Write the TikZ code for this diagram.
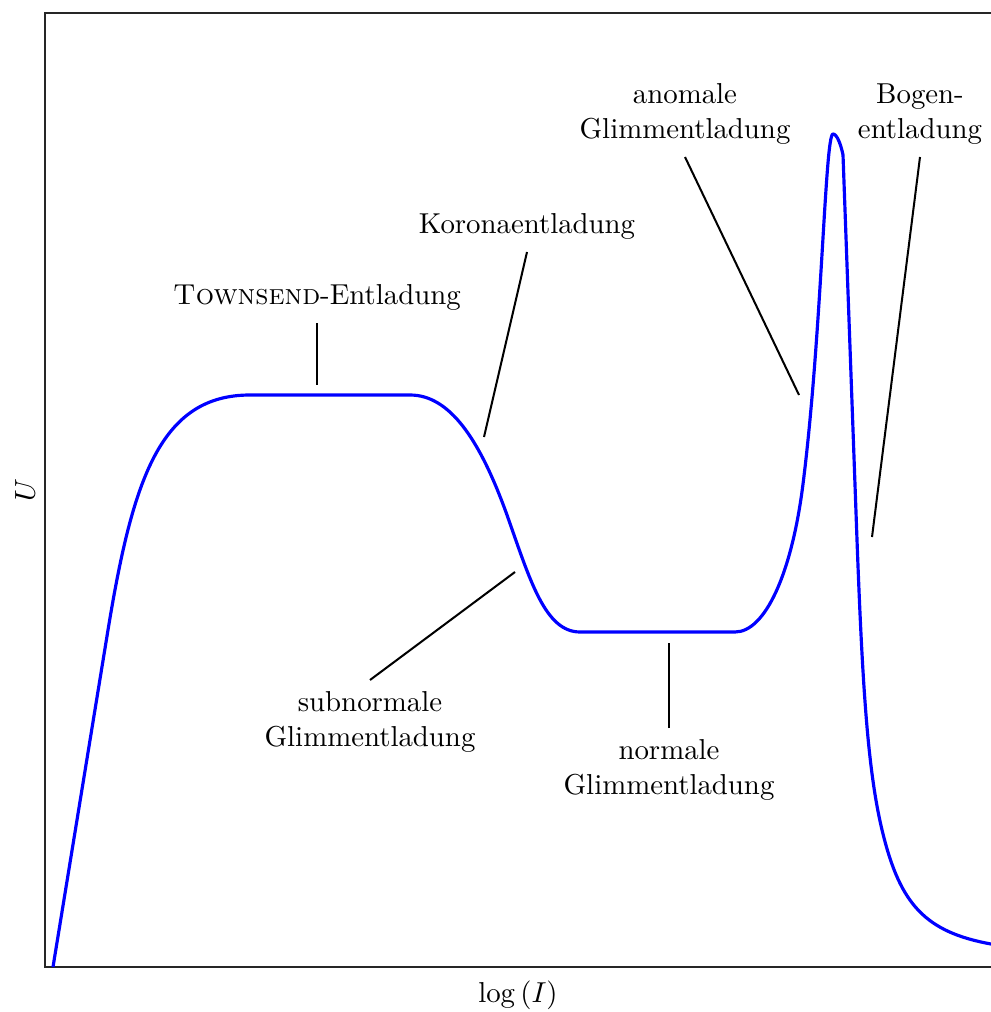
\documentclass[tikz,border=0pt]{standalone}
\usetikzlibrary{calc}
\begin{document}
\begin{tikzpicture}[x=0.347pt, y=-0.347pt,
  curve/.style={blue, line width=1.1pt, line join=round},
  leader/.style={black, line width=0.7pt},
  lbl/.style={align=center, inner sep=0pt, font=\normalsize},
  frame/.style={black!85, line width=0.45pt}]
  \useasboundingbox (0,0) rectangle (991,1012);
  \clip (0,0) rectangle (991,1012);

  % axis frame (open to the right)
  \draw[frame] (1010,13) -- (45,13) -- (45,967) -- (1010,967);

  % axis labels
  \node[lbl] (xlab) at (518,995) {$\log\left(I\right)$};
  \node[lbl, rotate=90] (ylab) at (25,490) {$U$};

  % characteristic curve
  \draw[curve]
    (53,967) -- (108,630)
    .. controls (132.6,480) and (160,395) .. (250,395)
    -- (410,395)
    .. controls (450,395) and (480,440) .. (507,515)
    .. controls (530,580) and (545,632) .. (580,632)
    -- (735,632)
    .. controls (765,632) and (791.7,574) .. (803,484)
    .. controls (821.9,334) and (825,134) .. (833,134)
    .. controls (837,134) and (841,145) .. (843,155)
    -- (857,540)
    .. controls (862.6,690) and (868,774) .. (883,834)
    .. controls (900.5,904) and (925,932) .. (991,944)
    -- (1010,947);

  % region labels
  \node[lbl] (townsend) at (317,297) {\textsc{Townsend}-Entladung};
  \node[lbl] (korona) at (527,226) {Koronaentladung};
  \node[lbl] (anomal) at (685,114) {anomale\\Glimmentladung};
  \node[lbl] (bogen) at (920,114) {Bogen-\\entladung};
  \node[lbl] (subnorm) at (370,722) {subnormale\\Glimmentladung};
  \node[lbl] (normal) at (669,770) {normale\\Glimmentladung};

  % leader line end points
  \coordinate (t1) at (317,323);  \coordinate (t2) at (317,385);
  \coordinate (k1) at (527,252);  \coordinate (k2) at (484,437);
  \coordinate (a1) at (685,157);  \coordinate (a2) at (799,395);
  \coordinate (b1) at (920,157);  \coordinate (b2) at (872,537);
  \coordinate (s1) at (370,680);  \coordinate (s2) at (515,572);
  \coordinate (n1) at (669,728);  \coordinate (n2) at (669,643);

  \draw[leader] (t1) -- (t2);
  \draw[leader] (k1) -- (k2);
  \draw[leader] (a1) -- (a2);
  \draw[leader] (b1) -- (b2);
  \draw[leader] (s1) -- (s2);
  \draw[leader] (n1) -- (n2);
\end{tikzpicture}
\end{document}
